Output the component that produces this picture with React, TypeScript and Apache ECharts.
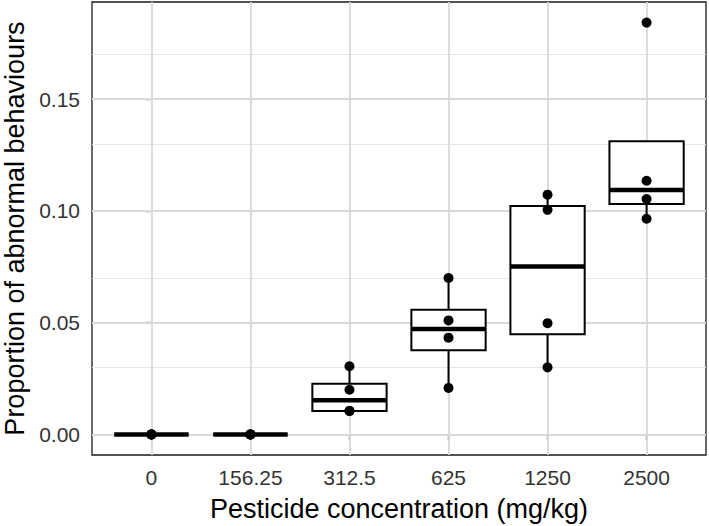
import React, { useEffect, useRef } from "react";
import * as echarts from "echarts";

const categories = ["0", "156.25", "312.5", "625", "1250", "2500"];
const group0 = [0, 0, 0, 0];
const group156 = [0, 0, 0, 0];
const group312 = [0.0105, 0.0105, 0.02, 0.0305];
const group625 = [0.0208, 0.0433, 0.051, 0.07];
const group1250 = [0.03, 0.0498, 0.1005, 0.1073];
const group2500 = [0.0965, 0.1053, 0.1135, 0.1843];
const groups = [group0, group156, group312, group625, group1250, group2500];
const yTicks = [0, 0.05, 0.1, 0.15];
const yMinor = [0.025, 0.075, 0.125, 0.175];

const FONT = "'Liberation Sans', Arial, Helvetica, sans-serif";

function quantile(sorted: number[], p: number) {
  const h = (sorted.length - 1) * p;
  const lo = Math.floor(h);
  const hi = Math.ceil(h);
  return sorted[lo] + (h - lo) * (sorted[hi] - sorted[lo]);
}

function boxStats(vals: number[]) {
  const s = [...vals].sort((a, b) => a - b);
  const q1 = quantile(s, 0.25);
  const med = quantile(s, 0.5);
  const q3 = quantile(s, 0.75);
  const iqr = q3 - q1;
  const lowLim = q1 - 1.5 * iqr;
  const hiLim = q3 + 1.5 * iqr;
  const inside = s.filter((v) => v >= lowLim - 1e-12 && v <= hiLim + 1e-12);
  return [q1, med, q3, Math.min(...inside), Math.max(...inside)];
}

export default function App() {
  const ref = useRef<HTMLDivElement>(null);
  useEffect(() => {
    document.body.style.margin = "0";
    const chart = echarts.init(ref.current!, null, { renderer: "svg" });
    const all = groups.flat();
    const dMin = Math.min(...all);
    const dMax = Math.max(...all);
    const pad = (dMax - dMin) * 0.05;
    const boxData = groups.map((g, i) => [i, ...boxStats(g)]);
    const pointData: number[][] = [];
    groups.forEach((g, i) => g.forEach((v) => pointData.push([i, v])));

    const gridLines: any[] = [];
    yMinor.forEach((v) =>
      gridLines.push({ yAxis: v, lineStyle: { color: "#e6e6e6", width: 1.2, type: "solid" } })
    );
    yTicks.forEach((v) =>
      gridLines.push({ yAxis: v, lineStyle: { color: "#d9d9d9", width: 1.8, type: "solid" } })
    );
    categories.forEach((_, i) =>
      gridLines.push({ xAxis: i, lineStyle: { color: "#d9d9d9", width: 1.8, type: "solid" } })
    );

    chart.setOption({
      animation: false,
      backgroundColor: "#ffffff",
      grid: {
        left: 92,
        right: 3,
        top: 2,
        bottom: 71,
        show: true,
        containLabel: false,
        outerBoundsMode: "none",
        borderColor: "#1a1a1a",
        borderWidth: 1.3,
        backgroundColor: "transparent",
      },
      xAxis: {
        type: "value",
        min: -0.6,
        max: categories.length - 0.4,
        splitLine: { show: false },
        axisLine: { show: false },
        axisTick: {
          show: true,
          customValues: categories.map((_, i) => i),
          length: 6,
          lineStyle: { color: "#333333", width: 1.3 },
        },
        axisLabel: {
          customValues: categories.map((_, i) => i),
          formatter: (v: number) => categories[Math.round(v)] ?? "",
          color: "#333333",
          fontSize: 21,
          fontFamily: FONT,
          margin: 12,
        },
        name: "Pesticide concentration (mg/kg)",
        nameLocation: "middle",
        nameGap: 40,
        nameTextStyle: { color: "#000000", fontSize: 27, fontFamily: FONT },
      },
      yAxis: {
        type: "value",
        min: dMin - pad,
        max: dMax + pad,
        splitLine: { show: false },
        axisLine: { show: false },
        axisTick: {
          show: true,
          customValues: yTicks,
          length: 6,
          lineStyle: { color: "#333333", width: 1.3 },
        },
        axisLabel: {
          customValues: yTicks,
          formatter: (v: number) => v.toFixed(2),
          color: "#333333",
          fontSize: 21,
          fontFamily: FONT,
          margin: 12,
        },
        name: "Proportion of abnormal behaviours",
        nameLocation: "middle",
        nameGap: 64,
        nameTextStyle: { color: "#000000", fontSize: 27, fontFamily: FONT },
      },
      series: [
        {
          type: "line",
          data: [],
          z: 1,
          silent: true,
          markLine: {
            silent: true,
            z: 1,
            symbol: "none",
            label: { show: false },
            animation: false,
            data: gridLines,
          },
        },
        {
          type: "custom",
          z: 3,
          data: boxData,
          encode: { x: 0, y: [1, 2, 3, 4, 5] },
          renderItem: (params: any, api: any) => {
            const i = api.value(0);
            const q1 = api.value(1);
            const med = api.value(2);
            const q3 = api.value(3);
            const lo = api.value(4);
            const hi = api.value(5);
            const w = api.size([0.75, 0])[0];
            const pQ1 = api.coord([i, q1]);
            const pQ3 = api.coord([i, q3]);
            const pMed = api.coord([i, med]);
            const pLo = api.coord([i, lo]);
            const pHi = api.coord([i, hi]);
            const x0 = pQ1[0] - w / 2;
            return {
              type: "group",
              children: [
                {
                  type: "line",
                  shape: { x1: pQ3[0], y1: pQ3[1], x2: pHi[0], y2: pHi[1] },
                  style: { stroke: "#000000", lineWidth: 2 },
                },
                {
                  type: "line",
                  shape: { x1: pQ1[0], y1: pQ1[1], x2: pLo[0], y2: pLo[1] },
                  style: { stroke: "#000000", lineWidth: 2 },
                },
                {
                  type: "rect",
                  shape: { x: x0, y: pQ3[1], width: w, height: pQ1[1] - pQ3[1] },
                  style: { stroke: "#000000", lineWidth: 2, fill: "#ffffff" },
                },
                {
                  type: "line",
                  shape: { x1: x0, y1: pMed[1], x2: x0 + w, y2: pMed[1] },
                  style: { stroke: "#000000", lineWidth: 4.5 },
                },
              ],
            };
          },
        },
        {
          type: "scatter",
          z: 4,
          data: pointData,
          symbol: "circle",
          symbolSize: 10,
          itemStyle: { color: "#000000", opacity: 1 },
          silent: true,
        },
      ],
    });
    return () => chart.dispose();
  }, []);
  return <div ref={ref} style={{ width: 709, height: 526 }} />;
}
